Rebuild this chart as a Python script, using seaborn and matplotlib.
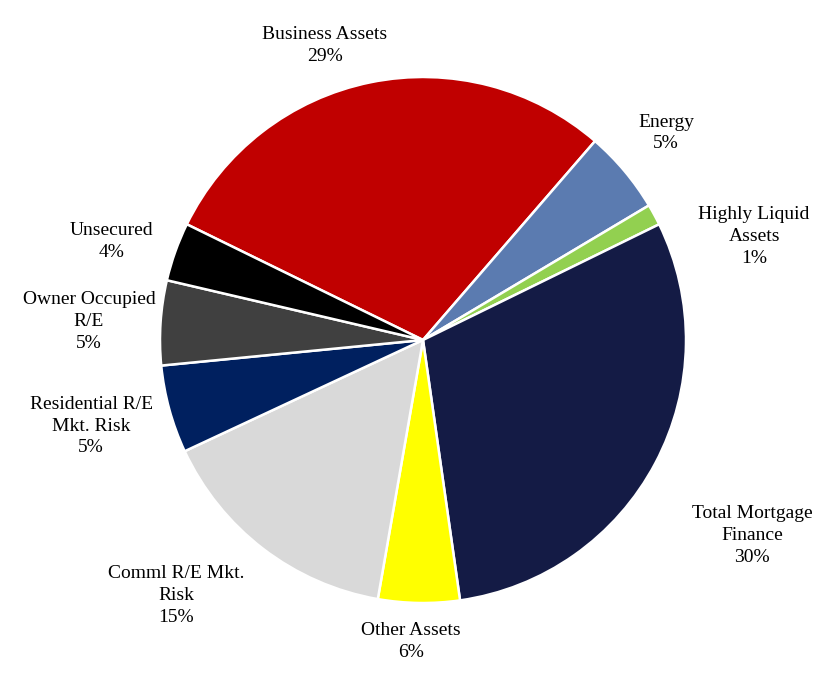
import matplotlib
matplotlib.use("Agg")
import matplotlib.pyplot as plt
import seaborn as sns

categories = ["Business Assets", "Energy", "Highly Liquid\nAssets", "Total Mortgage\nFinance",
              "Other Assets", "Comml R/E Mkt.\nRisk", "Residential R/E\nMkt. Risk",
              "Owner Occupied\nR/E", "Unsecured"]
values = [29.1, 5.1, 1.3, 30.0, 5.0, 15.3, 5.4, 5.2, 3.6]
shown_pct = [29, 5, 1, 30, 6, 15, 5, 5, 4]
colors = ["#C00000", "#5B7BB0", "#92D050", "#141B45", "#FFFF00",
          "#D9D9D9", "#00205F", "#404040", "#000000"]
# label positions (in pie-radius units)
label_pos = [(-0.373, 1.118), (0.924, 0.787), (1.259, 0.392), (1.251, -0.745),
             (-0.046, -1.148), (-0.939, -0.973), (-1.262, -0.327), (-1.270, 0.072),
             (-1.183, 0.376)]

sns.set_theme(style="white")
plt.rcParams["font.family"] = ["Liberation Serif", "DejaVu Serif"]

W, H = 831, 692
cx, cy, r = 423, 340, 263
fig = plt.figure(figsize=(W / 100, H / 100), dpi=100)
ax = fig.add_axes([0, 0, 1, 1])
ax.pie(values, colors=colors, startangle=153.9, counterclock=False,
       radius=1.0, center=(0, 0),
       wedgeprops=dict(edgecolor="white", linewidth=1.8))
ax.set_xlim(-cx / r, (W - cx) / r)
ax.set_ylim(-(H - cy) / r, cy / r)
ax.set_aspect("auto")
ax.axis("off")

for name, p, (x, y) in zip(categories, shown_pct, label_pos):
    ax.text(x, y, f"{name}\n{p}%", ha="center", va="center", fontsize=14,
            color="black", linespacing=1.38)

fig.savefig("out.png", dpi=100, facecolor="white")
